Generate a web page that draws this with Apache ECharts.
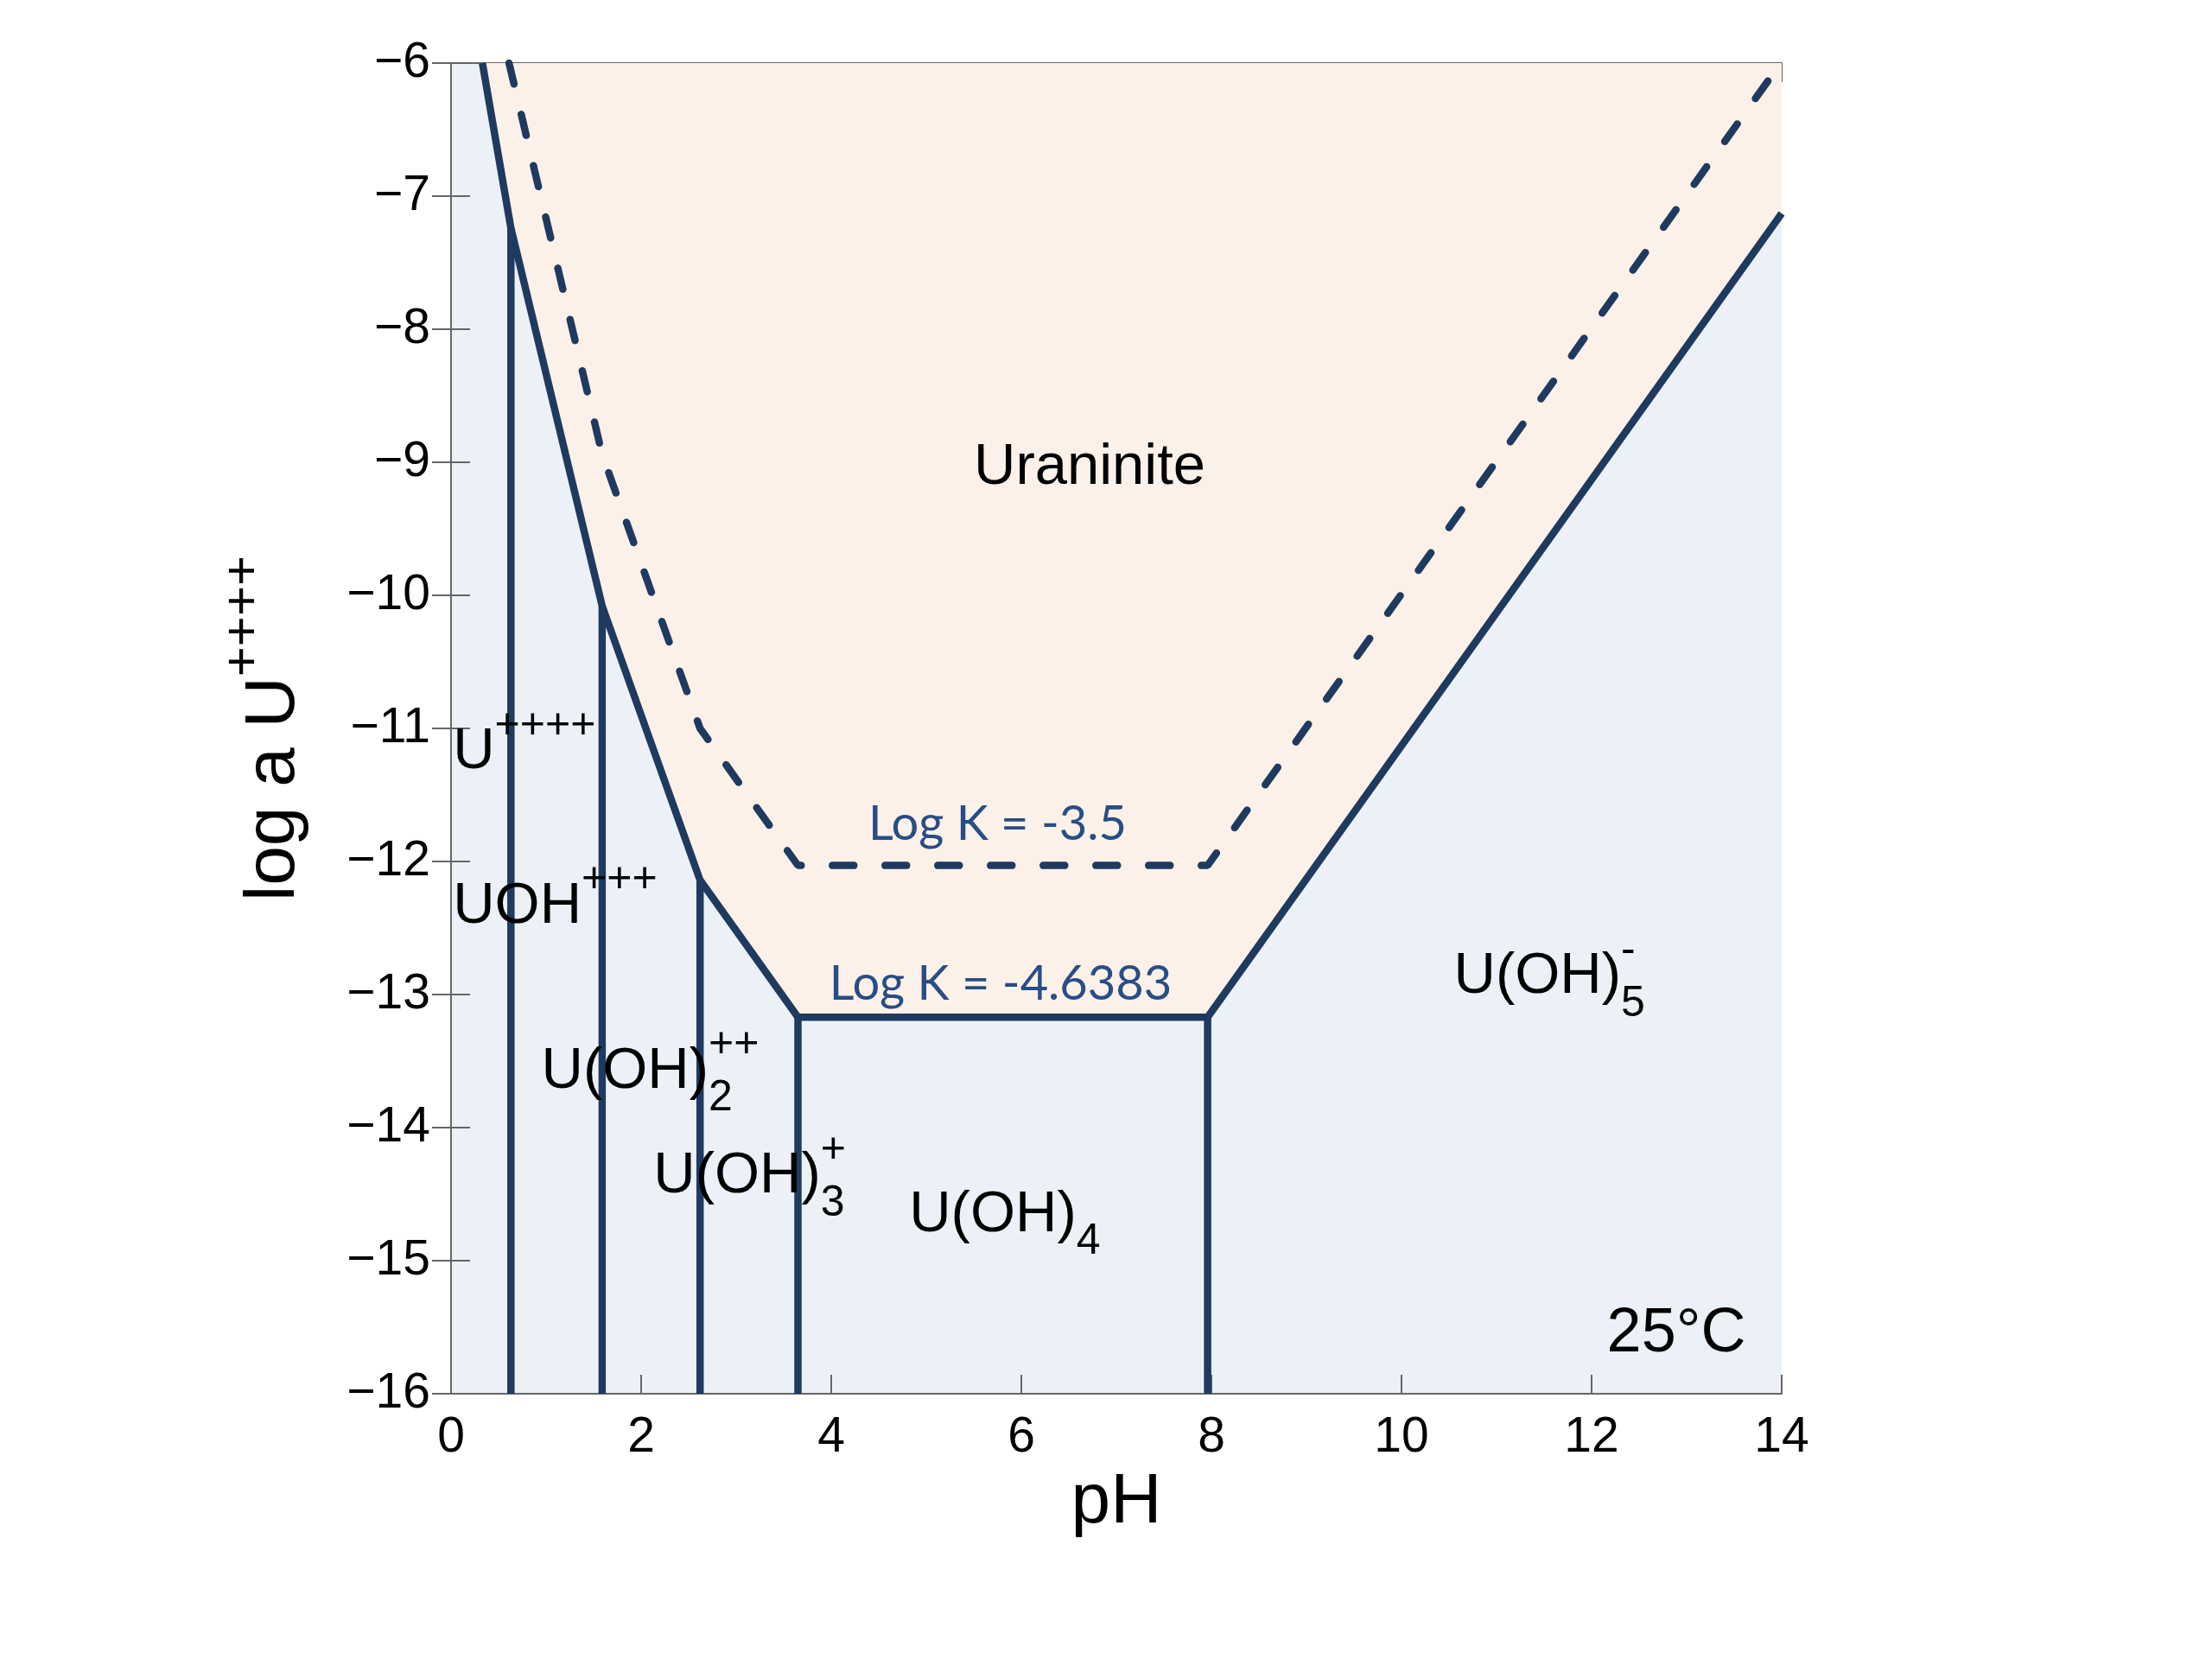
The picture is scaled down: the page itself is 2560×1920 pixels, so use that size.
<!DOCTYPE html>
<html lang="en">
<head>
    <meta charset="UTF-8">
    <title>UO2 solubility - log a U++++ vs pH</title>
    <script src="https://cdn.jsdelivr.net/npm/echarts@6/dist/echarts.min.js"></script>
    <style type="text/css">
    html, body { margin: 0; padding: 0; background: #ffffff; }
    #main { width: 2560px; height: 1920px; }
    </style>
</head>
<body>
<div id="main"></div>
<script type="text/javascript">
    // uraninite solubility boundary, log K = -4.6383 (vertices)
    var solidPH  = [0.33, 0.63, 1.59, 2.62, 3.65, 7.96, 14];
    var solidLog = [-6, -7.24, -10.08, -12.14, -13.17, -13.17, -7.13];

    // same boundary for log K = -3.5 (dashed)
    var dashPH  = [0.61, 1.59, 2.62, 3.65, 7.96, 14];
    var dashLog = [-6, -8.94, -11.0, -12.03, -12.03, -5.99];

    // species field borders (vertical lines), top end sits on the solid curve
    var borderPH  = [0.63, 1.59, 2.62, 3.65, 7.96];
    var borderTop = [-7.24, -10.08, -12.14, -13.17, -13.17];

    // field names
    var fieldText = ['Uraninite', 'U{sup|++++}', 'UOH{sup|+++}', 'U(OH){subz|2}{sup|++}',
                     'U(OH){subz|3}{sup|+}', 'U(OH){sub|4}', 'U(OH){subz|5}{sup|-}', '{big|25°C}'];
    var fieldPH  = [5.50, 0.02, 0.02, 0.95, 2.13, 4.82, 10.55, 12.16];
    var fieldLog = [-9.04, -11.18, -12.34, -13.58, -14.37, -14.66, -12.87, -15.55];

    var kText = ['Log K = -3.5', 'Log K = -4.6383'];
    var kPH   = [4.39, 3.98];
    var kLog  = [-11.72, -12.92];

    var xTicks = [0, 2, 4, 6, 8, 10, 12, 14];

    var navy = '#1f3a5f';
    var ink = '#000000';
    var font = 'Liberation Sans, Arial, sans-serif';

    function pairs(a, b) {
        var out = [];
        for (var i = 0; i < a.length; i++) out.push([a[i], b[i]]);
        return out;
    }

    var series = [];

    series.push({
        type: 'line',
        data: pairs(solidPH, solidLog),
        showSymbol: false,
        lineStyle: { color: navy, width: 8.5, join: 'round' },
        areaStyle: { origin: 'end', color: '#fcf1e8', opacity: 1 },
        z: 3
    });

    for (var i = 0; i < borderPH.length; i++) {
        series.push({
            type: 'line',
            data: [[borderPH[i], borderTop[i]], [borderPH[i], -16]],
            showSymbol: false,
            lineStyle: { color: navy, width: 8.5 },
            z: 4
        });
    }

    series.push({
        type: 'line',
        data: pairs(dashPH, dashLog),
        showSymbol: false,
        lineStyle: { color: navy, width: 8.5, type: [25, 36], cap: 'round' },
        z: 4
    });

    var fieldData = [];
    for (var j = 0; j < fieldText.length; j++) {
        fieldData.push({ value: [fieldPH[j], fieldLog[j]], txt: fieldText[j] });
    }
    series.push({
        type: 'scatter',
        symbolSize: 0,
        itemStyle: { opacity: 1 },
        data: fieldData,
        z: 6,
        label: {
            show: true,
            position: [0, 0],
            align: 'left',
            verticalAlign: 'middle',
            opacity: 1,
            formatter: function (p) { return p.data.txt; },
            fontFamily: font,
            fontSize: 67,
            lineHeight: 112,
            color: ink,
            rich: {
                sup:  { fontFamily: font, fontSize: 50, lineHeight: 46, verticalAlign: 'top', color: ink },
                sub:  { fontFamily: font, fontSize: 50, lineHeight: 70, verticalAlign: 'bottom', color: ink },
                subz: { fontFamily: font, fontSize: 50, lineHeight: 70, verticalAlign: 'bottom', width: 0, color: ink },
                big:  { fontFamily: font, fontSize: 72, lineHeight: 112, color: ink }
            }
        }
    });

    var kData = [];
    for (var k = 0; k < kText.length; k++) {
        kData.push({ value: [kPH[k], kLog[k]], txt: kText[k] });
    }
    series.push({
        type: 'scatter',
        symbolSize: 0,
        itemStyle: { opacity: 1 },
        data: kData,
        z: 6,
        label: {
            show: true,
            position: [0, 0],
            align: 'left',
            verticalAlign: 'middle',
            opacity: 1,
            formatter: function (p) { return p.data.txt; },
            fontFamily: 'Lato, sans-serif',
            fontSize: 56,
            color: '#284d86'
        }
    });

    var axisGray = '#666666';
    var chart = echarts.init(document.getElementById('main'), null, { renderer: 'canvas' });
    chart.setOption({
        animation: false,
        grid: {
            left: 522, top: 73, width: 1540, height: 1540,
            show: true, backgroundColor: '#ecf1f8', borderWidth: 0
        },
        xAxis: [{
            type: 'value', min: 0, max: 14, interval: 2,
            position: 'bottom',
            axisLine: { lineStyle: { color: axisGray, width: 2 } },
            axisTick: { inside: true, length: 22, lineStyle: { color: axisGray, width: 2 } },
            axisLabel: {
                margin: 23, fontFamily: font, fontSize: 57, color: ink,
                formatter: function (v) { return xTicks.indexOf(v) >= 0 ? String(v) : ''; }
            },
            splitLine: { show: false },
            name: 'pH', nameLocation: 'middle', nameGap: 77,
            nameTextStyle: { fontFamily: font, fontSize: 82, color: ink }
        }, {
            type: 'value', min: 0, max: 14, interval: 2,
            position: 'top',
            axisLine: { lineStyle: { color: axisGray, width: 2 } },
            axisTick: { inside: true, length: 22, lineStyle: { color: axisGray, width: 2 } },
            axisLabel: { show: false },
            splitLine: { show: false }
        }],
        yAxis: [{
            type: 'value', min: -16, max: -6, interval: 1,
            position: 'left',
            axisLine: { lineStyle: { color: axisGray, width: 2 } },
            axisTick: { inside: true, length: 22, lineStyle: { color: axisGray, width: 2 } },
            axisLabel: {
                margin: 24, fontFamily: font, fontSize: 57, color: ink,
                formatter: function (v) { return String(v).replace('-', '\u2212'); }
            },
            splitLine: { show: false },
            name: 'log a U{sup|++++}', nameLocation: 'middle', nameGap: 140,
            nameTextStyle: {
                fontFamily: font, fontSize: 82, lineHeight: 130, color: ink,
                rich: {
                    sup: { fontFamily: font, fontSize: 60, lineHeight: 56, verticalAlign: 'top', color: ink }
                }
            }
        }, {
            type: 'value', min: -16, max: -6, interval: 1,
            position: 'right',
            axisLine: { lineStyle: { color: axisGray, width: 2 } },
            axisTick: { inside: true, length: 22, lineStyle: { color: axisGray, width: 2 } },
            axisLabel: { show: false },
            splitLine: { show: false }
        }],
        series: series
    });
</script>
</body>
</html>
